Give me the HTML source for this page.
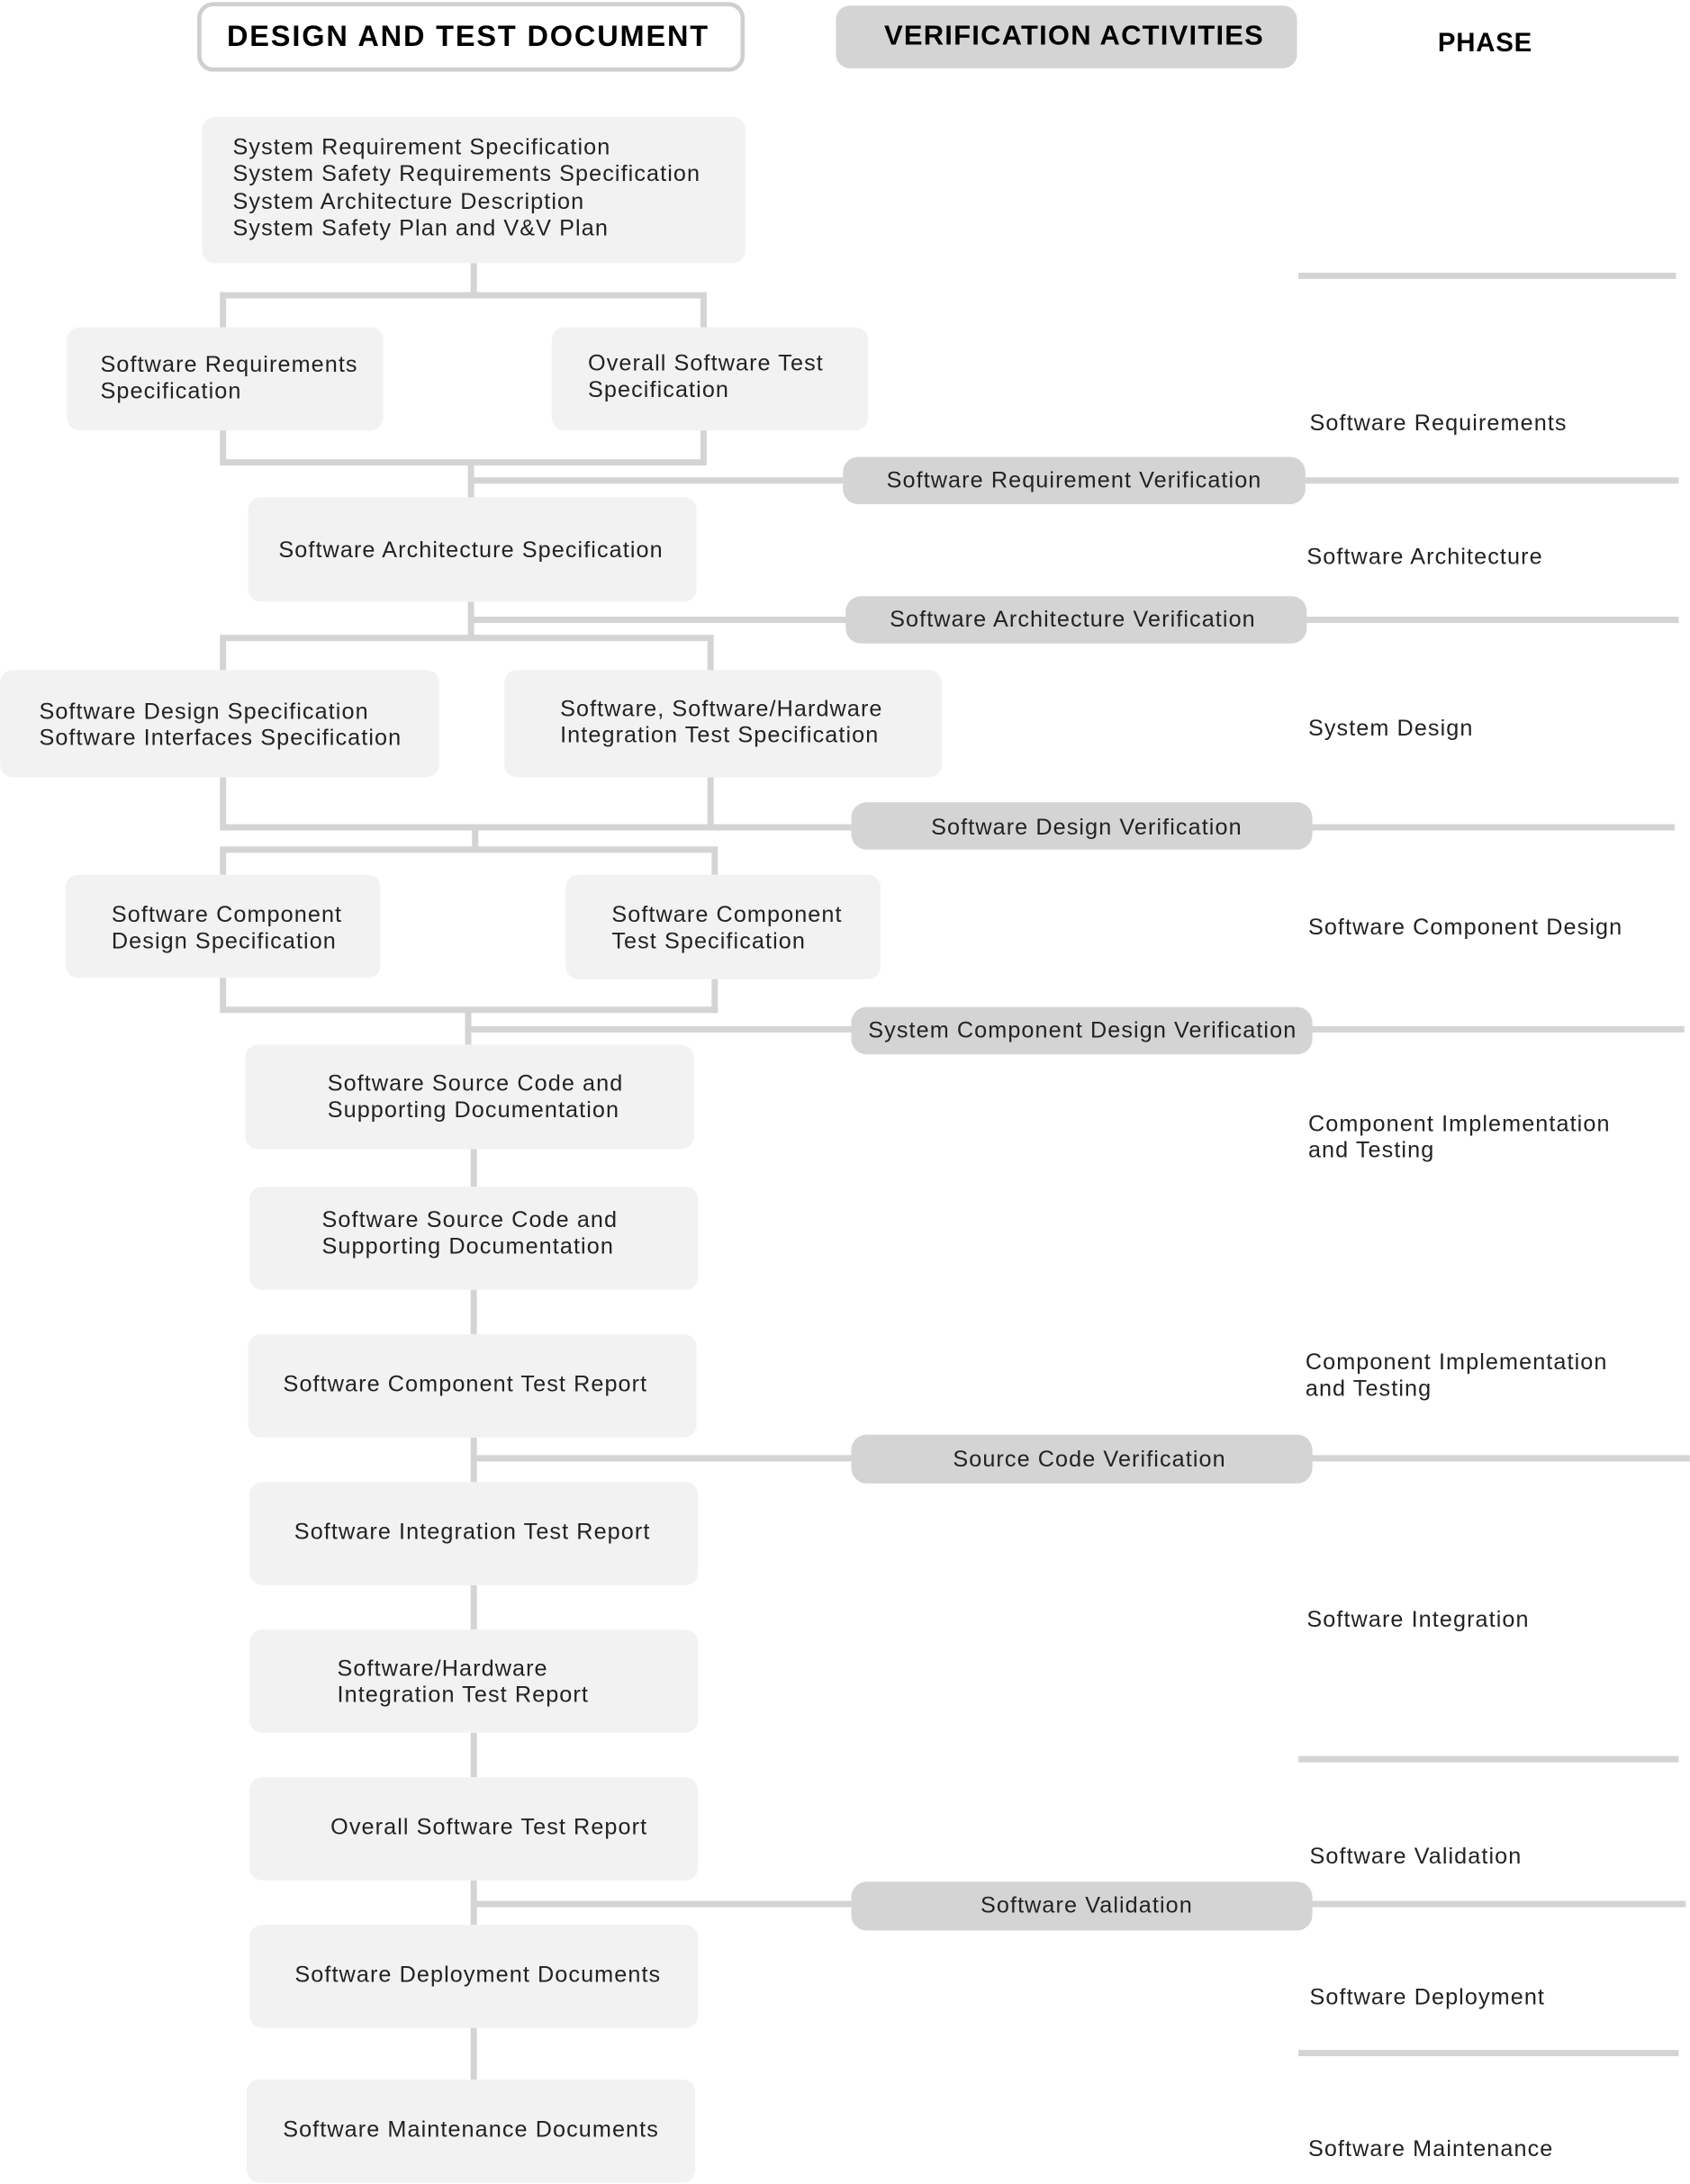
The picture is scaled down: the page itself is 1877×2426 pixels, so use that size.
<!DOCTYPE html>
<html><head><meta charset="utf-8"><style>
html,body{margin:0;padding:0;background:#fff;}
svg{display:block;}
text{font-family:"Liberation Sans",sans-serif;font-size:16.3px;letter-spacing:0.7px;fill:#222;}
.b{fill:#f2f2f2;}
.p{fill:#d4d4d4;}
.l{stroke:#d4d4d4;stroke-width:4.5;fill:none;}
.c{text-anchor:middle;}
</style></head><body>
<svg width="1877" height="2426" viewBox="0 0 1213 1568" xmlns="http://www.w3.org/2000/svg">
<rect x="0" y="0" width="1213" height="1568" fill="#fff"/>
<!-- headers -->
<rect x="143" y="3" width="390" height="47" rx="10" fill="#fff" stroke="#cfcfcf" stroke-width="3"/>
<text x="336" y="33" class="c" style="font-weight:bold;font-size:21px;letter-spacing:1.2px;fill:#000">DESIGN AND TEST DOCUMENT</text>
<rect x="600" y="4" width="331" height="45" rx="10" class="p"/>
<text x="771" y="32" class="c" style="font-weight:bold;font-size:20px;letter-spacing:0.8px;fill:#000">VERIFICATION ACTIVITIES</text>
<text x="1066" y="37" class="c" style="font-weight:bold;font-size:19px;letter-spacing:0.5px;fill:#000">PHASE</text>

<!-- connectors -->
<g class="l">
<path d="M340 189V212M160 235V212H505V235"/>
<path d="M160 309V332H505V309M338 332V357M338 345H1205"/>
<path d="M338 432V458M338 445H1205M160 482V458H510V482"/>
<path d="M160 558V594H510V558M510 594H1202M341 594V610M160 628V610H513V628"/>
<path d="M160 702V725H513V702M336 725V750M336 739H1209"/>
<path d="M340 825V852M340 926V958M340 1032V1064M340 1047H1213M340 1138V1170M340 1244V1276M340 1350V1382M340 1367H1210M340 1456V1493"/>
<path d="M932 198H1203M932 1263H1205M932 1474H1205"/>
</g>

<!-- doc boxes -->
<rect x="145" y="84" width="390" height="105" rx="9" class="b"/>
<text x="167" y="111">System Requirement Specification</text>
<text x="167" y="130">System Safety Requirements Specification</text>
<text x="167" y="150">System Architecture Description</text>
<text x="167" y="169">System Safety Plan and V&amp;V Plan</text>

<rect x="48" y="235" width="227" height="74" rx="9" class="b"/>
<text x="72" y="267">Software Requirements</text>
<text x="72" y="286">Specification</text>
<rect x="396" y="235" width="227" height="74" rx="9" class="b"/>
<text x="422" y="266">Overall Software Test</text>
<text x="422" y="285">Specification</text>

<rect x="178" y="357" width="322" height="75" rx="9" class="b"/>
<text x="338" y="400" class="c">Software Architecture Specification</text>

<rect x="0" y="481" width="315" height="77" rx="9" class="b"/>
<text x="28" y="516">Software Design Specification</text>
<text x="28" y="535">Software Interfaces Specification</text>
<rect x="362" y="481" width="314" height="77" rx="9" class="b"/>
<text x="402" y="514">Software, Software/Hardware</text>
<text x="402" y="533">Integration Test Specification</text>

<rect x="47" y="628" width="226" height="74" rx="9" class="b"/>
<text x="80" y="662">Software Component</text>
<text x="80" y="681">Design Specification</text>
<rect x="406" y="628" width="226" height="75" rx="9" class="b"/>
<text x="439" y="662">Software Component</text>
<text x="439" y="681">Test Specification</text>

<rect x="176" y="750" width="322" height="75" rx="9" class="b"/>
<text x="235" y="783">Software Source Code and</text>
<text x="235" y="802">Supporting Documentation</text>
<rect x="179" y="852" width="322" height="74" rx="9" class="b"/>
<text x="231" y="881">Software Source Code and</text>
<text x="231" y="900">Supporting Documentation</text>
<rect x="178" y="958" width="322" height="74" rx="9" class="b"/>
<text x="334" y="999" class="c">Software Component Test Report</text>
<rect x="179" y="1064" width="322" height="74" rx="9" class="b"/>
<text x="339" y="1105" class="c">Software Integration Test Report</text>
<rect x="179" y="1170" width="322" height="74" rx="9" class="b"/>
<text x="242" y="1203">Software/Hardware</text>
<text x="242" y="1222">Integration Test Report</text>
<rect x="179" y="1276" width="322" height="74" rx="9" class="b"/>
<text x="351" y="1317" class="c">Overall Software Test Report</text>
<rect x="179" y="1382" width="322" height="74" rx="9" class="b"/>
<text x="343" y="1423" class="c">Software Deployment Documents</text>
<rect x="177" y="1493" width="322" height="74" rx="9" class="b"/>
<text x="338" y="1534" class="c">Software Maintenance Documents</text>

<!-- verification pills -->
<rect x="605" y="328" width="332" height="34" rx="11" class="p"/>
<text x="771" y="350" class="c">Software Requirement Verification</text>
<rect x="607" y="428" width="331" height="34" rx="11" class="p"/>
<text x="770" y="450" class="c">Software Architecture Verification</text>
<rect x="611" y="576" width="331" height="34" rx="11" class="p"/>
<text x="780" y="599" class="c">Software Design Verification</text>
<rect x="611" y="723" width="331" height="34" rx="11" class="p"/>
<text x="777" y="745" class="c">System Component Design Verification</text>
<rect x="611" y="1030" width="331" height="35" rx="11" class="p"/>
<text x="782" y="1053" class="c">Source Code Verification</text>
<rect x="611" y="1351" width="331" height="35" rx="11" class="p"/>
<text x="780" y="1373" class="c">Software Validation</text>

<!-- phases -->
<text x="940" y="309">Software Requirements</text>
<text x="938" y="405">Software Architecture</text>
<text x="939" y="528">System Design</text>
<text x="939" y="671">Software Component Design</text>
<text x="939" y="812">Component Implementation</text>
<text x="939" y="831">and Testing</text>
<text x="937" y="983">Component Implementation</text>
<text x="937" y="1002">and Testing</text>
<text x="938" y="1168">Software Integration</text>
<text x="940" y="1338">Software Validation</text>
<text x="940" y="1439">Software Deployment</text>
<text x="939" y="1548">Software Maintenance</text>
</svg>
</body></html>
